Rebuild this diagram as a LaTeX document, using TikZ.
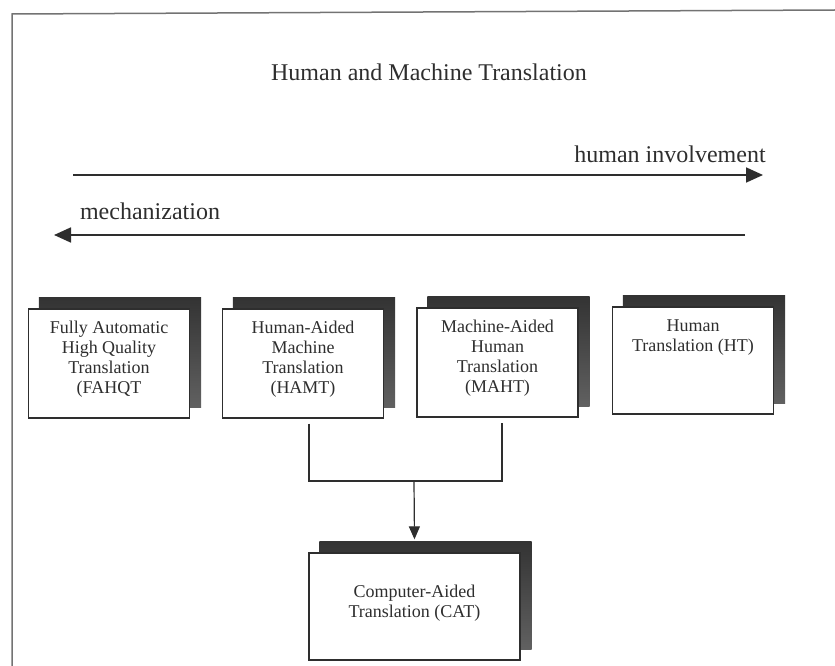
\documentclass[tikz,border=0pt]{standalone}
\usepackage{fontspec}
\setmainfont{Liberation Serif}
\usetikzlibrary{arrows.meta,backgrounds}
\definecolor{ink}{gray}{0.18}
\tikzset{
  bigtext/.style={font=\fontsize{24}{28}\selectfont, text=ink, inner sep=0pt},
  boxtext/.style={font=\fontsize{18}{20}\selectfont, text=ink, align=center, inner sep=0pt, anchor=north},
  tbox/.style={draw=ink, line width=1.3pt, fill=white, minimum width=161pt, minimum height=109pt, inner sep=0pt},
  shadowbox/.style={top color=black!80, middle color=black!42, bottom color=black!62},
  bigarrow/.style={draw=ink, line width=1.8pt, -{Triangle[length=17pt,width=15pt]}},
  conn/.style={draw=ink, line width=1.2pt},
  frameline/.style={draw=black!55, line width=1.5pt}
}
\newcommand{\boxshadow}[1]{\shade[shadowbox] ([shift={(11pt,11pt)}]#1.south west) rectangle ([shift={(11pt,11pt)}]#1.north east);}
\begin{document}
\begin{tikzpicture}[x=1pt,y=-1pt]
\useasboundingbox (0,0) rectangle (835,666);
% scan frame
\coordinate (fa) at (12,666);
\coordinate (fb) at (12,14);
\coordinate (fc) at (835,10);
\draw[frameline] (fa) -- (fb) -- (fc);
% title and direction arrows
\node[bigtext] (title) at (429,72) {Human and Machine Translation};
\node[bigtext] (hi) at (670,154) {human involvement};
\node[bigtext] (mech) at (150,211) {mechanization};
\coordinate (a1s) at (73,175);
\coordinate (a1e) at (763,175);
\coordinate (a2s) at (745,235);
\coordinate (a2e) at (54,235);
\draw[bigarrow] (a1s) -- (a1e);
\draw[bigarrow] (a2s) -- (a2e);
% boxes
\node[tbox] (b1) at (109,363.5) {};
\node[tbox] (b2) at (303,363.5) {};
\node[tbox] (b3) at (497.5,362.5) {};
\node[tbox, minimum height=107pt] (b4) at (693,360.5) {};
\node[tbox, minimum width=211pt, minimum height=107pt] (cat) at (414.5,606.5) {};
\begin{scope}[on background layer]
\boxshadow{b1}
\boxshadow{b2}
\boxshadow{b3}
\boxshadow{b4}
\boxshadow{cat}
\end{scope}
\node[boxtext] (t1) at ([yshift=-12pt]b1.north) {Fully Automatic\\High Quality\\Translation\\(FAHQT};
\node[boxtext] (t2) at ([yshift=-12pt]b2.north) {Human-Aided\\Machine\\Translation\\(HAMT)};
\node[boxtext] (t3) at ([yshift=-12pt]b3.north) {Machine-Aided\\Human\\Translation\\(MAHT)};
\node[boxtext] (t4) at ([yshift=-13pt]b4.north) {Human\\Translation (HT)};
\node[boxtext, anchor=center] (t5) at ([yshift=3pt]cat.center) {Computer-Aided\\Translation (CAT)};
% connectors
\coordinate (p2) at ([xshift=6pt,yshift=-5pt]b2.south);
\coordinate (p3) at ([xshift=4.5pt,yshift=-5pt]b3.south);
\coordinate (j) at (414,481);
\draw[conn] (p2) -- (p2 |- j) -- (p3 |- j) -- (p3);
\draw[conn, -{Triangle[length=13pt,width=11pt]}] (j) -- ([yshift=13pt]cat.north);
\end{tikzpicture}
\end{document}
